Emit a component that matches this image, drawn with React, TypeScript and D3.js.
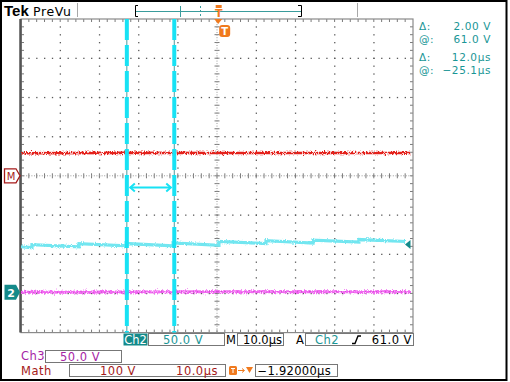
import React from "react";
import * as d3 from "d3";

const timeDomain = [0, 100]; // µs across 10 divisions
const divDomain = [-4, 4]; // vertical divisions

// Ch2 sawtooth: segment starts/ends (µs) and voltages (V)
const ch2SegStart = [0, 2.8, 14.8, 26.8, 38.8, 50.5, 62.5, 74.5, 86.2];
const ch2SegEnd = [2.8, 14.8, 26.8, 38.8, 50.5, 62.5, 74.5, 86.2, 98.2];
const ch2StartV = [58.0, 60.6, 61.9, 62.1, 62.9, 64.7, 65.7, 66.3, 67.2];
const ch2EndV = [56.8, 58.0, 59.3, 59.2, 59.9, 61.9, 62.8, 63.8, 64.7];
const ch2VoltsPerDiv = 50;
const ch2OffsetDiv = -2.97;

// Math (red)
const mathTimes = [0, 25, 50, 75, 99.5];
const mathV = [57.5, 58.5, 58.0, 58.3, 58.0];
const mathVoltsPerDiv = 100;
const mathOffsetDiv = 0;

// Ch3 (magenta)
const ch3Times = [0, 50, 99.5];
const ch3V = [0, 0.5, 0.5];
const ch3VoltsPerDiv = 50;
const ch3OffsetDiv = -2.97;

// cursors / trigger
const cursorTimes = [27.0, 39.1];
const triggerTime = 50.3;
const triggerLevelV = 61.0;

const readoutLabels = ["Δ:", "@:", "Δ:", "@:"];
const readoutValues = ["2.00 V", "61.0 V", "12.0µs", "−25.1µs"];

const ch2Scale = "50.0 V";
const ch3Scale = "50.0 V";
const mathScale = "100 V";
const timeBase = "10.0µs";
const trigLevelText = "61.0 V";
const trigPosText = "−1.92000µs";

// ---- layout ----
const W = 510, H = 382;
const gL = 21, gR = 413, gT = 19, gB = 332.6;

const TEAL = "#1a9696";
const TEALBG = "#148a8a";
const CYAN = "#17e2f4";
const ORANGE = "#f07a1e";
const DARKRED = "#a51a1a";
const PURPLE = "#a624a6";
const FONT = "DejaVu Sans, sans-serif";
const LS = 0.5;

export default function App() {
  const x = d3.scaleLinear().domain(timeDomain).range([gL, gR]);
  const yDiv = d3.scaleLinear().domain(divDomain).range([gB, gT]);
  const chY = (v: number, vpd: number, off: number) => yDiv(off + v / vpd);

  const divX = 10, divY = 8, minor = 5;
  const dx = (gR - gL) / divX, dy = (gB - gT) / divY;
  const cx = x((timeDomain[0] + timeDomain[1]) / 2);
  const cy = yDiv(0);

  const grid: JSX.Element[] = [];
  for (let i = 1; i < divX; i++) {
    if (i === divX / 2) continue;
    const gx = gL + i * dx;
    for (let j = 1; j < divY * minor; j++) {
      grid.push(<rect key={`v${i}-${j}`} x={gx - 0.5} y={gT + (j * dy) / minor - 0.5} width={1.3} height={1.3} fill="#5a5a5a" />);
    }
  }
  for (let k = 1; k < divY; k++) {
    if (k === divY / 2) continue;
    const gy = gT + k * dy;
    for (let j = 1; j < divX * minor; j++) {
      grid.push(<rect key={`h${k}-${j}`} x={gL + (j * dx) / minor - 0.5} y={gy - 0.5} width={1.3} height={1.3} fill="#5a5a5a" />);
    }
  }
  for (let j = 1; j < divX * minor; j++) {
    const tx = gL + (j * dx) / minor;
    grid.push(<line key={`ct${j}`} x1={tx} x2={tx} y1={cy - 2.5} y2={cy + 2.5} stroke="#7a7a7a" strokeWidth={1} />);
    grid.push(<line key={`bt${j}`} x1={tx} x2={tx} y1={gT} y2={gT + 3} stroke="#7a7a7a" strokeWidth={1} />);
    grid.push(<line key={`bb${j}`} x1={tx} x2={tx} y1={gB - 3} y2={gB} stroke="#7a7a7a" strokeWidth={1} />);
  }
  for (let j = 1; j < divY * minor; j++) {
    const ty = gT + (j * dy) / minor;
    grid.push(<line key={`cv${j}`} x1={cx - 2.5} x2={cx + 2.5} y1={ty} y2={ty} stroke="#7a7a7a" strokeWidth={1} />);
    grid.push(<line key={`lt${j}`} x1={gL} x2={gL + 3} y1={ty} y2={ty} stroke="#7a7a7a" strokeWidth={1} />);
    grid.push(<line key={`rt${j}`} x1={gR - 3} x2={gR} y1={ty} y2={ty} stroke="#7a7a7a" strokeWidth={1} />);
  }

  const line = d3.line<[number, number]>().x((d) => x(d[0])).y((d) => d[1]);

  const ch2Pts: [number, number][] = [];
  ch2SegStart.forEach((s, i) => {
    ch2Pts.push([s, chY(ch2StartV[i], ch2VoltsPerDiv, ch2OffsetDiv)]);
    ch2Pts.push([ch2SegEnd[i], chY(ch2EndV[i], ch2VoltsPerDiv, ch2OffsetDiv)]);
  });
  const mathPts: [number, number][] = mathTimes.map((t, i) => [t, chY(mathV[i], mathVoltsPerDiv, mathOffsetDiv)]);
  const ch3Pts: [number, number][] = ch3Times.map((t, i) => [t, chY(ch3V[i], ch3VoltsPerDiv, ch3OffsetDiv)]);

  const mY = yDiv(mathOffsetDiv);
  const c2Y = yDiv(ch2OffsetDiv);
  const tlY = chY(triggerLevelV, ch2VoltsPerDiv, ch2OffsetDiv);
  const tX = x(triggerTime);
  const c1 = x(cursorTimes[0]), c2 = x(cursorTimes[1]);
  const arrowY = gT + 4.3 * dy;

  const readY = [29.5, 42.5, 61, 74];
  const fs = 11.5;
  const rfs = 10.5;

  return (
    <svg width={W} height={H} style={{ position: "absolute", left: 0, top: 0, background: "#fff" }} fontFamily={FONT}>
      <defs>
        <filter id="nz" filterUnits="userSpaceOnUse" x={0} y={0} width={W} height={H}>
          <feTurbulence type="fractalNoise" baseFrequency="0.9 0.6" numOctaves={1} seed={4} result="t" />
          <feDisplacementMap in="SourceGraphic" in2="t" scale={6} xChannelSelector="R" yChannelSelector="G" />
        </filter>
        <filter id="nz2" filterUnits="userSpaceOnUse" x={0} y={0} width={W} height={H}>
          <feTurbulence type="fractalNoise" baseFrequency="0.9 0.7" numOctaves={1} seed={9} result="t" />
          <feDisplacementMap in="SourceGraphic" in2="t" scale={3.5} xChannelSelector="R" yChannelSelector="G" />
        </filter>
      </defs>
      <rect x={0} y={0} width={W} height={H} fill="#fff" />

      {/* header */}
      <text x={4} y={15.5} fontSize={15} fontWeight="bold" fontFamily="Liberation Sans, Arial, sans-serif" fill="#000">Tek</text>
      <text x={33} y={15.5} fontSize={12.5} fill="#000" letterSpacing={0.6}>PreVu</text>
      <line x1={77.5} x2={77.5} y1={3} y2={17} stroke="#a8a8a8" />
      <line x1={357.5} x2={357.5} y1={3} y2={17} stroke="#a8a8a8" />
      <path d="M138,5.5 H135.5 V16.5 H138" fill="none" stroke="#000" />
      <path d="M298,5.5 H301.5 V16.5 H298" fill="none" stroke="#000" />
      <line x1={136} x2={301} y1={11.5} y2={11.5} stroke="#3a9c9c" />
      <line x1={180.5} x2={180.5} y1={6} y2={17} stroke="#3a9c9c" />
      <line x1={200.5} x2={200.5} y1={6} y2={17} stroke="#3a9c9c" strokeDasharray="2 2" />
      <rect x={tX - 2.5} y={5} width={6} height={3} fill={ORANGE} />
      <text x={tX + 0.5} y={17} fontSize={11} fontWeight="bold" fill={ORANGE} textAnchor="middle">T</text>

      {/* graticule */}
      {grid}
      <line x1={cx} x2={cx} y1={gT} y2={gB} stroke="#9a9a9a" strokeDasharray="1 1.6" />
      <line x1={gL} x2={gR} y1={cy} y2={cy} stroke="#9a9a9a" strokeDasharray="1 1.6" />
      <rect x={gL} y={gT} width={gR - gL} height={gB - gT} fill="none" stroke="#8a8a8a" strokeWidth={1.2} />
      <line x1={gL - 0.5} x2={gL - 0.5} y1={gT} y2={gB} stroke="#555" strokeWidth={2.5} />

      {/* traces */}
      <path d={line(mathPts) || ""} fill="none" stroke="#e4201e" strokeWidth={2.6} filter="url(#nz)" />
      <path d={line(ch3Pts) || ""} fill="none" stroke="#f26af2" strokeWidth={3} filter="url(#nz)" />
      <path d={line(ch3Pts) || ""} fill="none" stroke="#c83cc8" strokeWidth={0.9} strokeDasharray="1 3" filter="url(#nz2)" />
      <path d={line(ch2Pts) || ""} fill="none" stroke="#72e6f0" strokeWidth={3.2} filter="url(#nz2)" />

      {/* cursors */}
      {[c1, c2].map((cxp, i) => (
        <g key={i}>
          <line x1={cxp} x2={cxp} y1={gT} y2={gB} stroke="#4e9c9e" strokeWidth={1} />
          <line x1={cxp} x2={cxp} y1={gT} y2={gB} stroke={CYAN} strokeWidth={4} strokeDasharray="21 5" />
        </g>
      ))}
      <line x1={c1 + 3} x2={c2 - 3} y1={arrowY} y2={arrowY} stroke={CYAN} strokeWidth={2} />
      <path d={`M${c1 + 8},${arrowY - 4} L${c1 + 3.5},${arrowY} L${c1 + 8},${arrowY + 4}`} fill="none" stroke={CYAN} strokeWidth={2} />
      <path d={`M${c2 - 8},${arrowY - 4} L${c2 - 3.5},${arrowY} L${c2 - 8},${arrowY + 4}`} fill="none" stroke={CYAN} strokeWidth={2} />

      {/* trigger markers */}
      <path d={`M${tX - 4},${gT} L${tX + 4},${gT} L${tX},${gT + 5} Z`} fill={ORANGE} />
      <rect x={tX + 1} y={25} width={11} height={12} rx={3} fill={ORANGE} />
      <text x={tX + 6.5} y={35} fontSize={10} fontWeight="bold" fill="#fff" textAnchor="middle">T</text>
      <path d={`M${gR - 8},${tlY} L${gR - 2.5},${tlY - 4.5} L${gR - 2.5},${tlY + 4.5} Z`} fill={TEALBG} />

      {/* channel markers */}
      <path d={`M4.5,${mY - 7} H16 L20,${mY} L16,${mY + 7} H4.5 Z`} fill="#fff" stroke={DARKRED} strokeWidth={1.3} />
      <text x={11} y={mY + 4} fontSize={10} fill={DARKRED} textAnchor="middle">M</text>
      <path d={`M4.5,${c2Y - 7.5} H16 L20,${c2Y} L16,${c2Y + 7.5} H4.5 Z`} fill={TEALBG} />
      <text x={11} y={c2Y + 4.5} fontSize={11} fontWeight="bold" fill="#fff" textAnchor="middle">2</text>

      {/* readouts */}
      {readoutLabels.map((l, i) => (
        <g key={i}>
          <text x={419} y={readY[i]} fontSize={rfs} fill={TEAL} letterSpacing={0.6}>{l}</text>
          <text x={491} y={readY[i]} fontSize={rfs} fill={TEAL} textAnchor="end" letterSpacing={0.6}>{readoutValues[i]}</text>
        </g>
      ))}

      <g fontSize={fs} letterSpacing={LS}>
        {/* bottom row 1 */}
        <rect x={123.5} y={333.5} width={24} height={12} fill={TEALBG} />
        <text x={135.5} y={344} fill="#fff" textAnchor="middle" letterSpacing={0}>Ch2</text>
        <rect x={148.5} y={333.5} width={76} height={12} fill="#fff" stroke="#777" />
        <text x={163} y={344} fill={TEAL}>{ch2Scale}</text>
        <text x={226} y={344} fill="#000">M</text>
        <rect x={237.5} y={333.5} width={46} height={12} fill="#fff" stroke="#777" />
        <text x={282} y={344} fill="#000" textAnchor="end" letterSpacing={0}>{timeBase}</text>
        <text x={296} y={344} fill="#000">A</text>
        <rect x={305.5} y={333.5} width={108} height={12} fill="#fff" stroke="#777" />
        <text x={315} y={344} fill={TEAL}>Ch2</text>
        <path d="M352,343.5 H355 L358,336 H361" fill="none" stroke="#000" strokeWidth={1.4} />
        <text x={412} y={344} fill="#000" textAnchor="end">{trigLevelText}</text>

        {/* row 2 */}
        <text x={21} y={360} fill={PURPLE}>Ch3</text>
        <rect x={45.5} y={350.5} width={76} height={12} fill="#fff" stroke="#777" />
        <text x={60} y={361} fill={PURPLE}>{ch3Scale}</text>

        {/* row 3 */}
        <text x={21} y={375} fill={DARKRED}>Math</text>
        <rect x={69.5} y={364.5} width={156} height={12} fill="#fff" stroke="#777" />
        <text x={100} y={375} fill={DARKRED}>{mathScale}</text>
        <text x={218} y={375} fill={DARKRED} textAnchor="end">{timeBase}</text>
        <rect x={255.5} y={364.5} width={82} height={12} fill="#fff" stroke="#777" />
        <text x={257.5} y={375} fill="#000" letterSpacing={0.3}>{trigPosText}</text>
      </g>
      <rect x={229} y={366} width={8} height={9} rx={1.5} fill={ORANGE} />
      <line x1={231} x2={235} y1={368.5} y2={368.5} stroke="#fff" strokeWidth={1} />
      <line x1={233} x2={233} y1={368.5} y2={373} stroke="#fff" strokeWidth={1} />
      <line x1={238} x2={244} y1={370.5} y2={370.5} stroke={ORANGE} strokeWidth={1} />
      <path d="M242,368.5 L244.5,370.5 L242,372.5" fill="none" stroke={ORANGE} strokeWidth={1} />
      <path d="M246,367 L253,367 L249.5,373 Z" fill={ORANGE} />

      {/* outer frame */}
      <rect x={1} y={1} width={505.5} height={379} fill="none" stroke="#000" strokeWidth={2} />
    </svg>
  );
}
